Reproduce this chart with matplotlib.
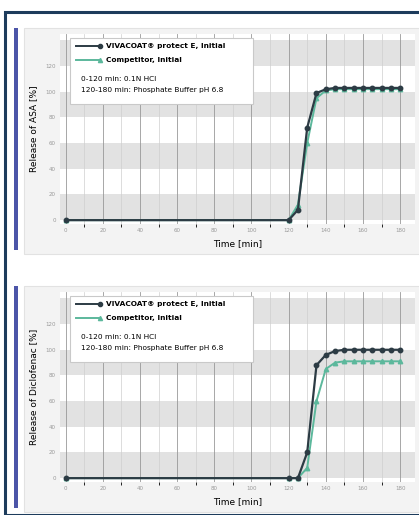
import numpy as np
import matplotlib
matplotlib.use("Agg")
import matplotlib.pyplot as plt
from matplotlib.patches import Rectangle
from matplotlib.lines import Line2D

# time points [min]
time = [0, 120, 125, 130, 135, 140, 145, 150, 155, 160, 165, 170, 175, 180]

# release of ASA [%]
asa_viva = [0, 0, 8, 72, 99, 102, 103, 103, 103, 103, 103, 103, 103, 103]
asa_comp = [0, 0, 12, 60, 95, 101, 102, 102, 102, 102, 102, 102, 102, 102]

# release of Diclofenac [%]
dic_viva = [0, 0, 0, 20, 88, 96, 99, 100, 100, 100, 100, 100, 100, 100]
dic_comp = [0, 0, 0, 8, 60, 85, 90, 91, 91, 91, 91, 91, 91, 91]

x_ticks = [0, 20, 40, 60, 80, 100, 120, 140, 160, 180]
y_ticks = [0, 20, 40, 60, 80, 100, 120]

VIVA = "#2c3b44"
COMP = "#5cb89c"
NAVY = "#1d3c5c"

W, H = 419, 515
fig = plt.figure(figsize=(W / 100, H / 100), dpi=100)
fig.patch.set_facecolor("white")


def px(x, y, w, h):
    # pixel box (top-left origin) -> figure fraction
    return [x / W, 1 - (y + h) / H, w / W, h / H]


# outer frame
fig.patches.append(Rectangle((5 / W, 0), 1.0, 1 - 12 / H, transform=fig.transFigure,
                             fill=False, edgecolor=NAVY, lw=2.2, zorder=10))


def panel(top, ylabel, viva, comp):
    # light grey card + blue side bar
    fig.patches.append(Rectangle((24 / W, 1 - (top + 226) / H), 400 / W, 226 / H,
                                 transform=fig.transFigure, facecolor="#f3f3f3",
                                 edgecolor="#e2e2e2", lw=0.8, zorder=-2))
    fig.patches.append(Rectangle((14 / W, 1 - (top + 222) / H), 4 / W, 222 / H,
                                 transform=fig.transFigure, facecolor="#4c55a8",
                                 edgecolor="none", zorder=-1))
    ax = fig.add_axes(px(60, top + 6, 355, 190))
    ax.set_facecolor("white")
    for lo in (0, 40, 80, 120):
        ax.axhspan(lo, lo + 20, color="#e2e2e2", lw=0, zorder=0)
    ax.set_xlim(-3, 188)
    ax.set_ylim(-3, 145)
    ax.set_xticks(x_ticks)
    ax.set_yticks(y_ticks)
    ax.set_xticks(np.arange(10, 180, 10), minor=True)
    ax.grid(True, axis="x", which="major", color="#999999", lw=0.6, zorder=1)
    ax.grid(True, axis="x", which="minor", color="#cfcfcf", lw=0.5, zorder=1)
    ax.tick_params(labelsize=4, colors="#999999", length=0, pad=3)
    for s in ax.spines.values():
        s.set_visible(False)
    ax.plot(time, comp, "-^", color=COMP, ms=3.2, lw=1.4, zorder=3)
    ax.plot(time, viva, "-o", color=VIVA, ms=3.2, lw=1.6, zorder=4)
    ax.set_xlabel("Time [min]", fontsize=6.5, labelpad=4)
    ax.set_ylabel(ylabel, fontsize=6.5, labelpad=5)

    # legend box
    lx, ly, lw_, lh = 70, top + 10, 183, 66
    fig.patches.append(Rectangle((lx / W, 1 - (ly + lh) / H), lw_ / W, lh / H,
                                 transform=fig.transFigure, facecolor="white",
                                 edgecolor="#c9c9c9", lw=0.8, zorder=5))
    for i, (c, m, lab) in enumerate([(VIVA, "o", "VIVACOAT\u00ae protect E, Initial"),
                                      (COMP, "^", "Competitor, Initial")]):
        yy = 1 - (ly + 8 + i * 14) / H
        fig.add_artist(Line2D([76 / W, 100 / W], [yy, yy], color=c, lw=1.4,
                              marker=m, ms=3, markevery=[1], zorder=6))
        fig.text(106 / W, yy, lab, fontsize=5.3, fontweight="bold", va="center", zorder=6)
    fig.text(81 / W, 1 - (ly + 41) / H, "0-120 min: 0.1N HCl", fontsize=5.3, va="center", zorder=6)
    fig.text(81 / W, 1 - (ly + 52) / H, "120-180 min: Phosphate Buffer pH 6.8", fontsize=5.3,
             va="center", zorder=6)
    return ax


panel(28, "Release of ASA [%]", asa_viva, asa_comp)
panel(286, "Release of Diclofenac [%]", dic_viva, dic_comp)

fig.savefig("out.png", dpi=100)
